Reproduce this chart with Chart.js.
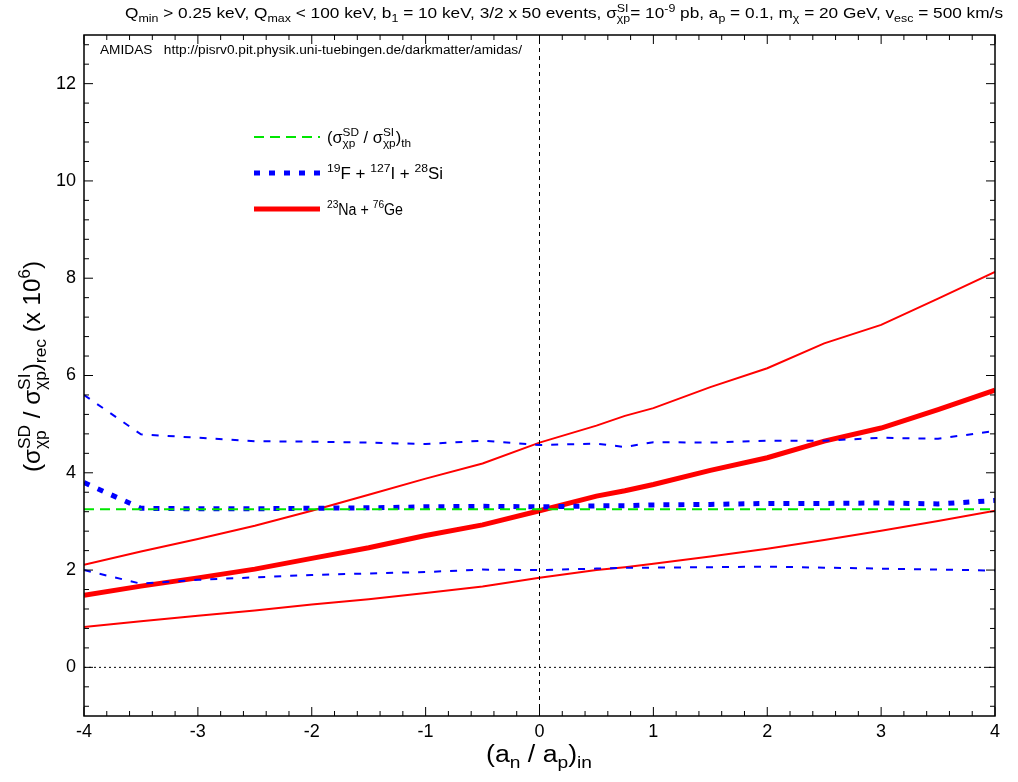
<!DOCTYPE html>
<html>
<head>
<meta charset="utf-8">
<script src="https://cdn.jsdelivr.net/npm/chart.js@4.4.1/dist/chart.umd.min.js"></script>
<style>
  html, body { margin: 0; padding: 0; background: #fff; }
</style>
</head>
<body>
<canvas id="c" width="1018" height="782"></canvas>
<script>
const FONT = '"Liberation Sans", Arial, sans-serif';

// a_n / a_p input values
const xVals = [-4, -3.5, -3, -2.5, -2, -1.5, -1, -0.5, 0, 0.5, 0.75, 1, 1.5, 2, 2.5, 3, 3.5, 4];

// theoretical ratio
const thX = [-4, 4];
const thY = [3.25, 3.25];

// 19F + 127I + 28Si : median and 1-sigma bounds
const fiMid = [3.8, 3.27, 3.26, 3.26, 3.27, 3.28, 3.3, 3.31, 3.3, 3.32, 3.32, 3.34, 3.35, 3.37, 3.37, 3.38, 3.36, 3.43];
const fiUp  = [5.6, 4.79, 4.72, 4.65, 4.64, 4.62, 4.59, 4.66, 4.57, 4.6, 4.53, 4.63, 4.62, 4.66, 4.66, 4.72, 4.7, 4.86];
const fiLow = [2.0, 1.72, 1.8, 1.85, 1.9, 1.93, 1.96, 2.01, 2.0, 2.03, 2.05, 2.05, 2.06, 2.07, 2.05, 2.03, 2.01, 1.99];

// 23Na + 76Ge : median and 1-sigma bounds
const naMid = [1.48, 1.67, 1.84, 2.02, 2.24, 2.46, 2.71, 2.93, 3.22, 3.52, 3.63, 3.76, 4.05, 4.31, 4.65, 4.92, 5.3, 5.7];
const naUp  = [2.11, 2.38, 2.64, 2.91, 3.22, 3.55, 3.88, 4.19, 4.62, 4.97, 5.17, 5.33, 5.76, 6.15, 6.66, 7.04, 7.58, 8.13];
const naLow = [0.83, 0.95, 1.06, 1.17, 1.29, 1.4, 1.53, 1.66, 1.84, 2.0, 2.06, 2.13, 2.28, 2.44, 2.62, 2.81, 3.01, 3.22];

const xTicks = [-4, -3, -2, -1, 0, 1, 2, 3, 4];
const yTicks = [0, 2, 4, 6, 8, 10, 12];

const pts = (xs, ys) => xs.map((x, i) => ({ x: x, y: ys[i] }));

// rich text: parts are {t} normal, {sup}, {sub} or {sup, sub} stacked
function richWidth(ctx, parts, size) {
  let w = 0;
  for (const p of parts) {
    if (p.t !== undefined) {
      ctx.font = size + 'px ' + FONT;
      w += ctx.measureText(p.t).width;
    } else {
      ctx.font = (size * 0.72) + 'px ' + FONT;
      w += Math.max(p.sup ? ctx.measureText(p.sup).width : 0, p.sub ? ctx.measureText(p.sub).width : 0);
    }
  }
  return w;
}

function drawRich(ctx, parts, x, y, size) {
  ctx.textAlign = 'left';
  ctx.textBaseline = 'alphabetic';
  for (const p of parts) {
    if (p.t !== undefined) {
      ctx.font = size + 'px ' + FONT;
      ctx.fillText(p.t, x, y);
      x += ctx.measureText(p.t).width;
    } else {
      ctx.font = (size * 0.72) + 'px ' + FONT;
      let w = 0;
      if (p.sup) { ctx.fillText(p.sup, x, y - size * 0.42); w = ctx.measureText(p.sup).width; }
      if (p.sub) { ctx.fillText(p.sub, x, y + size * 0.25); w = Math.max(w, ctx.measureText(p.sub).width); }
      x += w;
    }
  }
}

// draw rich text squeezed/stretched to a given width
function drawFit(ctx, parts, x, y, size, width) {
  const w = richWidth(ctx, parts, size);
  ctx.save();
  ctx.translate(x, y);
  ctx.scale(width / w, 1);
  drawRich(ctx, parts, 0, 0, size);
  ctx.restore();
}

const titleParts = [
  { t: 'Q' }, { sub: 'min' }, { t: ' > 0.25 keV, Q' }, { sub: 'max' }, { t: ' < 100 keV, b' }, { sub: '1' },
  { t: ' = 10 keV, 3/2 x 50 events, \u03c3' }, { sup: 'SI', sub: '\u03c7p' }, { t: '= 10' }, { sup: '-9' },
  { t: ' pb, a' }, { sub: 'p' }, { t: ' = 0.1, m' }, { sub: '\u03c7' }, { t: ' = 20 GeV, v' }, { sub: 'esc' },
  { t: ' = 500 km/s' }
];
const yTitleParts = [
  { t: '(\u03c3' }, { sup: 'SD', sub: '\u03c7p' }, { t: ' / \u03c3' }, { sup: 'SI', sub: '\u03c7p' }, { t: ')' },
  { sub: 'rec' }, { t: ' (x 10' }, { sup: '6' }, { t: ')' }
];
const xTitleParts = [{ t: '(a' }, { sub: 'n' }, { t: ' / a' }, { sub: 'p' }, { t: ')' }, { sub: 'in' }];

const legendRows = [
  { ds: 2, w: 84, parts: [{ t: '(\u03c3' }, { sup: 'SD', sub: '\u03c7p' }, { t: ' / \u03c3' }, { sup: 'SI', sub: '\u03c7p' }, { t: ')' }, { sub: 'th' }] },
  { ds: 3, w: 116, parts: [{ sup: '19' }, { t: 'F + ' }, { sup: '127' }, { t: 'I + ' }, { sup: '28' }, { t: 'Si' }] },
  { ds: 6, w: 76, parts: [{ sup: '23' }, { t: 'Na + ' }, { sup: '76' }, { t: 'Ge' }] }
];

const decor = {
  id: 'decor',
  afterDraw(chart) {
    const ctx = chart.ctx;
    const a = chart.chartArea;
    const xs = chart.scales.x, ys = chart.scales.y;
    ctx.save();
    ctx.fillStyle = '#000';
    ctx.strokeStyle = '#000';

    // frame
    ctx.lineWidth = 1.5;
    ctx.setLineDash([]);
    ctx.strokeRect(a.left, a.top, a.right - a.left, a.bottom - a.top);

    // inward ticks on all four sides
    ctx.lineWidth = 1;
    ctx.beginPath();
    for (let i = 0; i <= 40; i++) {
      const v = -4 + i * 0.2;
      const px = xs.getPixelForValue(v);
      const len = (i % 5 === 0) ? 9 : 5;
      ctx.moveTo(px, a.bottom); ctx.lineTo(px, a.bottom - len);
      ctx.moveTo(px, a.top); ctx.lineTo(px, a.top + len);
    }
    for (let i = -2; i <= 32; i++) {
      const v = i * 0.4;
      if (v < -1 || v > 13) continue;
      const py = ys.getPixelForValue(v);
      const len = (i % 5 === 0) ? 9 : 5;
      ctx.moveTo(a.left, py); ctx.lineTo(a.left + len, py);
      ctx.moveTo(a.right, py); ctx.lineTo(a.right - len, py);
    }
    ctx.stroke();

    // titles
    drawFit(ctx, titleParts, 125, 18, 15, 878);
    drawFit(ctx, xTitleParts, 486, 762, 23, 106);
    ctx.save();
    ctx.translate(40, 472);
    ctx.rotate(-Math.PI / 2);
    drawFit(ctx, yTitleParts, 0, 0, 24, 211);
    ctx.restore();

    drawFit(ctx, [{ t: 'AMIDAS   http://pisrv0.pit.physik.uni-tuebingen.de/darkmatter/amidas/' }], 100, 54, 12, 422);

    // legend
    legendRows.forEach((row, i) => {
      const ds = chart.data.datasets[row.ds];
      const y = 137 + i * 36;
      ctx.save();
      ctx.strokeStyle = ds.borderColor;
      ctx.lineWidth = ds.borderWidth;
      ctx.setLineDash(ds.borderDash || []);
      ctx.beginPath();
      ctx.moveTo(254, y);
      ctx.lineTo(320, y);
      ctx.stroke();
      ctx.restore();
      drawFit(ctx, row.parts, 327, y + 6, 16, row.w);
    });
    ctx.restore();
  }
};

const thinBlue = { borderColor: '#0000ff', borderWidth: 2, borderDash: [7, 9] };
const thinRed = { borderColor: '#ff0000', borderWidth: 2 };

new Chart(document.getElementById('c'), {
  type: 'line',
  data: {
    datasets: [
      { data: [{ x: 0, y: -1 }, { x: 0, y: 13 }], borderColor: '#000', borderWidth: 1, borderDash: [4, 4] },
      { data: [{ x: -4, y: 0 }, { x: 4, y: 0 }], borderColor: '#000', borderWidth: 1, borderDash: [2, 3] },
      { data: pts(thX, thY), borderColor: '#00e600', borderWidth: 2, borderDash: [10, 6] },
      { data: pts(xVals, fiMid), borderColor: '#0000ff', borderWidth: 5, borderDash: [6, 9] },
      Object.assign({ data: pts(xVals, fiUp) }, thinBlue),
      Object.assign({ data: pts(xVals, fiLow) }, thinBlue),
      { data: pts(xVals, naMid), borderColor: '#ff0000', borderWidth: 5 },
      Object.assign({ data: pts(xVals, naUp) }, thinRed),
      Object.assign({ data: pts(xVals, naLow) }, thinRed)
    ].map(d => Object.assign({ pointRadius: 0, fill: false, tension: 0 }, d))
  },
  options: {
    responsive: false,
    animation: false,
    layout: { padding: { top: 35, right: 23, left: 0, bottom: 0 } },
    plugins: { legend: { display: false }, tooltip: { enabled: false } },
    scales: {
      x: {
        type: 'linear', min: -4, max: 4,
        grid: { drawOnChartArea: false, drawTicks: false },
        border: { display: false },
        afterBuildTicks: s => { s.ticks = xTicks.map(v => ({ value: v })); },
        ticks: { color: '#000', font: { size: 18, family: FONT }, padding: 5, maxRotation: 0, callback: v => String(v) },
        afterFit: s => { s.height = 66; }
      },
      y: {
        type: 'linear', min: -1, max: 13,
        grid: { drawOnChartArea: false, drawTicks: false },
        border: { display: false },
        afterBuildTicks: s => { s.ticks = yTicks.map(v => ({ value: v })); },
        ticks: { color: '#000', font: { size: 18, family: FONT }, padding: 8, callback: v => String(v) },
        afterFit: s => { s.width = 84; }
      }
    }
  },
  plugins: [decor]
});
</script>
</body>
</html>
